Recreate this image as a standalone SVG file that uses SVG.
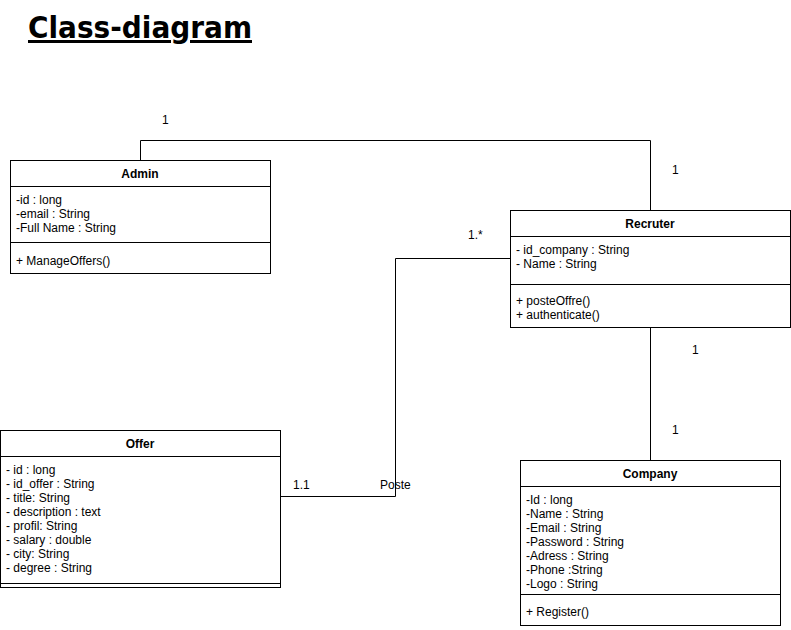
<svg xmlns="http://www.w3.org/2000/svg" width="791" height="630" viewBox="0 0 791 630">
<style>
.box{fill:#fff;stroke:#000;stroke-width:1}
.ln{stroke:#000;stroke-width:1;fill:none}
text{font-family:"Liberation Sans",Arial,sans-serif;font-size:12px;fill:#000}
.t{font-weight:bold;text-anchor:middle}
.lbl{font-size:12px}
.title{font-family:"DejaVu Sans",sans-serif;font-size:30px;font-weight:bold;text-decoration:underline}
</style>
<rect width="791" height="630" fill="#fff"/>
<text class="title" x="28" y="38" textLength="224" lengthAdjust="spacingAndGlyphs">Class-diagram</text>
<g id="connectors">
<path class="ln" d="M140.5 160V140.5H650.5V210"/>
<path class="ln" d="M510 258.5H395.5V496.5H280"/>
<path class="ln" d="M650.5 328V460"/>
<text class="lbl" x="162" y="124">1</text>
<text class="lbl" x="672" y="174">1</text>
<text class="lbl" x="468" y="239">1.*</text>
<text class="lbl" x="293" y="489">1.1</text>
<text class="lbl" x="380" y="489">Poste</text>
<text class="lbl" x="692" y="354">1</text>
<text class="lbl" x="672" y="434">1</text>
</g>
<g id="admin">
<rect class="box" x="10.5" y="160.5" width="260" height="113"/>
<path class="ln" d="M10.5 186.5H270.5M10.5 242.5H270.5"/>
<text class="t" x="140" y="178">Admin</text>
<text x="16" y="204">-id : long</text>
<text x="16" y="218">-email : String</text>
<text x="16" y="232">-Full Name : String</text>
<text x="16" y="265">+ ManageOffers()</text>
</g>
<g id="recruter">
<rect class="box" x="510.5" y="210.5" width="280" height="117"/>
<path class="ln" d="M510.5 236.5H790.5M510.5 284.5H790.5"/>
<text class="t" x="650" y="228">Recruter</text>
<text x="516" y="254">- id_company : String</text>
<text x="516" y="268">- Name : String</text>
<text x="516" y="305">+ posteOffre()</text>
<text x="516" y="319">+ authenticate()</text>
</g>
<g id="offer">
<rect class="box" x="0.5" y="430.5" width="280" height="157"/>
<path class="ln" d="M0.5 456.5H280.5M0.5 583.5H280.5"/>
<text class="t" x="140" y="448">Offer</text>
<text x="6" y="474">- id : long</text>
<text x="6" y="488">- id_offer : String</text>
<text x="6" y="502">- title: String</text>
<text x="6" y="516">- description : text</text>
<text x="6" y="530">- profil: String</text>
<text x="6" y="544">- salary : double</text>
<text x="6" y="558">- city: String</text>
<text x="6" y="572">- degree : String</text>
</g>
<g id="company">
<rect class="box" x="520.5" y="460.5" width="260" height="165"/>
<path class="ln" d="M520.5 486.5H780.5M520.5 594.5H780.5"/>
<text class="t" x="650" y="478">Company</text>
<text x="526" y="504">-Id : long</text>
<text x="526" y="518">-Name : String</text>
<text x="526" y="532">-Email : String</text>
<text x="526" y="546">-Password : String</text>
<text x="526" y="560">-Adress : String</text>
<text x="526" y="574">-Phone :String</text>
<text x="526" y="588">-Logo : String</text>
<text x="526" y="616">+ Register()</text>
</g>
</svg>
